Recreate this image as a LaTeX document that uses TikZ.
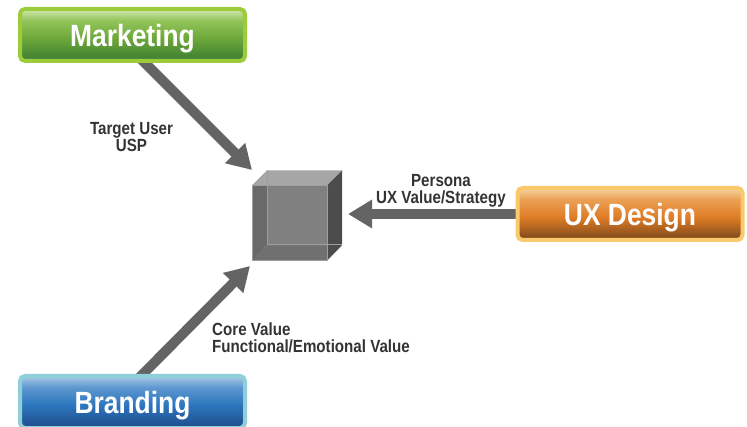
\documentclass[tikz,border=0pt]{standalone}
\usepackage{fontspec}
\newfontfamily\diafont{Liberation Sans}[FakeStretch=0.86]
\usetikzlibrary{arrows.meta, calc, backgrounds}

\definecolor{arrowgray}{HTML}{646464}
\definecolor{labelgray}{HTML}{333333}
% box colours
\definecolor{mktborder}{HTML}{9CCC3C}
\definecolor{mkttop}{HTML}{D2E8AE}
\definecolor{mkthigh}{HTML}{93C45A}
\definecolor{mktmid}{HTML}{6DA83A}
\definecolor{mktbot}{HTML}{3B7D32}
\definecolor{uxborder}{HTML}{F9C96B}
\definecolor{uxtop}{HTML}{F6D4A2}
\definecolor{uxhigh}{HTML}{EBA055}
\definecolor{uxmid}{HTML}{DF7D26}
\definecolor{uxbot}{HTML}{7A461A}
\definecolor{brdborder}{HTML}{8FCFD8}
\definecolor{brdtop}{HTML}{ABCAE6}
\definecolor{brdhigh}{HTML}{5D97CF}
\definecolor{brdmid}{HTML}{2C76BE}
\definecolor{brdbot}{HTML}{1F4B8A}

\pgfdeclareverticalshading{mktshade}{100bp}{color(0bp)=(mktbot); color(25bp)=(mktbot);
  color(47bp)=(mktmid); color(64bp)=(mkthigh); color(75bp)=(mkttop); color(100bp)=(mkttop)}
\pgfdeclareverticalshading{uxshade}{100bp}{color(0bp)=(uxbot); color(25bp)=(uxbot);
  color(47bp)=(uxmid); color(64bp)=(uxhigh); color(75bp)=(uxtop); color(100bp)=(uxtop)}
\pgfdeclareverticalshading{brdshade}{100bp}{color(0bp)=(brdbot); color(25bp)=(brdbot);
  color(47bp)=(brdmid); color(64bp)=(brdhigh); color(75bp)=(brdtop); color(100bp)=(brdtop)}

\begin{document}
\begin{tikzpicture}[
      x=1pt, y=-1pt,
      box/.style={draw, line width=4pt, rounded corners=5pt, minimum width=225pt, minimum height=52pt,
        inner sep=0pt, text depth=0pt, text=white, font=\diafont\bfseries\fontsize{30.7}{32}\selectfont},
      lbl/.style={inner sep=0pt, text=labelgray, font=\diafont\bfseries\fontsize{17.6}{17.5}\selectfont},
      flow/.style={draw=arrowgray, line width=10pt, -{Triangle[width=27pt, length=24pt]}}
    ]
    \useasboundingbox (0,0) rectangle (747,427);

    \node[box, draw=mktborder, shading=mktshade] (mkt) at (132.5,35) {Marketing};
    \node[box, draw=uxborder, shading=uxshade] (ux) at (630,214) {UX Design};
    \node[box, draw=brdborder, shading=brdshade] (brd) at (132.5,402) {Branding};

    % the cube
    \node[minimum size=75pt, inner sep=0pt, outer sep=0pt] (cube) at (289.5,223) {};
    \fill[black!50] (cube.north west) rectangle (cube.south east);
    \fill[black!59] (cube.north west) -- ++(15,-15) -- ++(0,74) -- (cube.south west) -- cycle;
    \fill[black!56] (cube.south west) -- ++(15,-15) -- ++(75,0) -- (cube.south east) -- cycle;
    \fill[black!35] (cube.north west) -- ++(15,-15) -- ++(75,0) -- (cube.north east) -- cycle;
    \fill[black!70] (cube.north east) -- ++(15,-15) -- ++(0,74) -- (cube.south east) -- cycle;
    \draw[black!38, line width=0.8pt] ([shift={(15,-15)}]cube.north west) -- ++(0,74) -- ++(75,0);
    \draw[black!38, line width=0.8pt] (cube.north west) rectangle (cube.south east);

    \coordinate (mkttip) at (252,170);
    \coordinate (uxtip) at (348,214);
    \coordinate (brdtip) at (250,266);

    \begin{scope}[on background layer]
      \draw[flow] ($(mkt.south)+(6.5,-6)$) -- (mkttip);
      \draw[flow] (ux.west) -- (uxtip);
      \draw[flow] ($(brd.north)+(4.5,6)$) -- (brdtip);
    \end{scope}

    \node[lbl, align=center] (mktlbl) at (131.5,137) {Target User\\USP};
    \node[lbl, align=center] (uxlbl) at (441,191) {Persona\\UX Value/Strategy};
    \node[lbl, align=left, anchor=west] (brdlbl) at (212,338) {Core Value\\Functional/Emotional Value};
  \end{tikzpicture}
\end{document}
